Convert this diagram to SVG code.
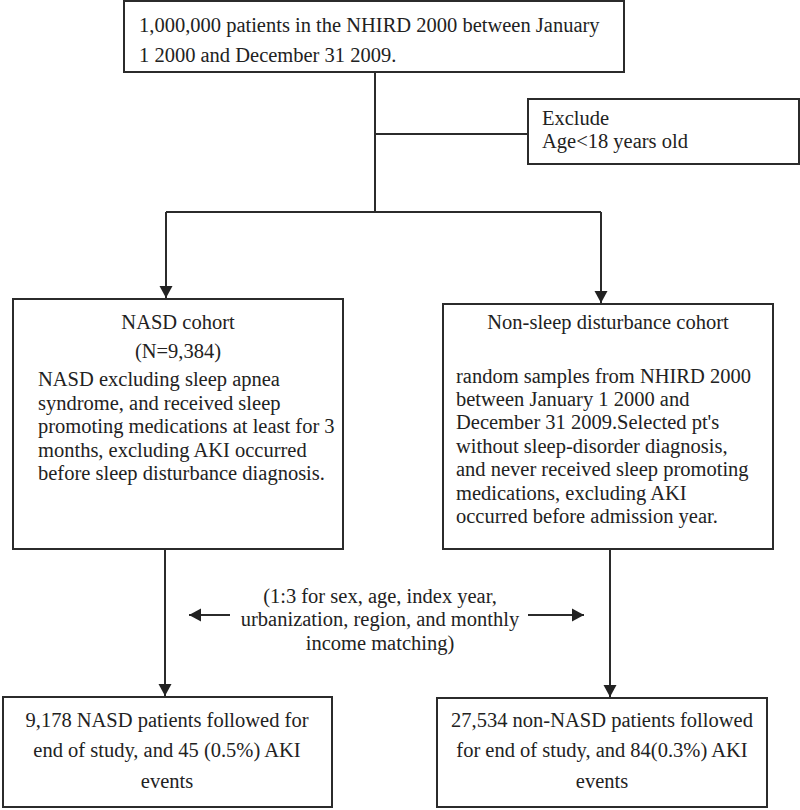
<svg xmlns="http://www.w3.org/2000/svg" width="800" height="810" viewBox="0 0 800 810">
<style>
.box{fill:#fff;stroke:#2b2b2b;stroke-width:2}
.t{font-family:"Liberation Serif","Times New Roman",serif;font-size:20.5px;fill:#222}
.c{text-anchor:middle}
.ln{fill:none;stroke:#2b2b2b;stroke-width:2}
</style>
<defs>
<marker id="ah" markerUnits="userSpaceOnUse" markerWidth="13" markerHeight="14" refX="12" refY="7" orient="auto">
<path d="M0,0.5 L12,7 L0,13.5 z" fill="#222"/>
</marker>
</defs>
<rect width="800" height="810" fill="#fff"/>
<g id="connectors">
<path class="ln" d="M375,72 V212"/>
<path class="ln" d="M375,134 H528"/>
<path class="ln" d="M166,212 H601"/>
<path class="ln" d="M166,212 V298" marker-end="url(#ah)"/>
<path class="ln" d="M601,212 V303" marker-end="url(#ah)"/>
<path class="ln" d="M165,549 V696" marker-end="url(#ah)"/>
<path class="ln" d="M610,549 V697" marker-end="url(#ah)"/>
<path class="ln" d="M230,615 H189" marker-end="url(#ah)"/>
<path class="ln" d="M528,615 H584" marker-end="url(#ah)"/>
</g>
<g id="start">
<rect class="box" x="124" y="1" width="500" height="71"/>
<text class="t" x="139" y="32">1,000,000 patients in the NHIRD 2000 between January</text>
<text class="t" x="139" y="62">1 2000 and December 31 2009.</text>
</g>
<g id="exclude">
<rect class="box" x="528" y="99" width="271" height="65"/>
<text class="t" x="542" y="125">Exclude</text>
<text class="t" x="542" y="148">Age&lt;18 years old</text>
</g>
<g id="nasd">
<rect class="box" x="13" y="299" width="330" height="250"/>
<text class="t c" x="178" y="329">NASD cohort</text>
<text class="t c" x="178" y="358">(N=9,384)</text>
<text class="t" x="38" y="386">NASD excluding sleep apnea</text>
<text class="t" x="38" y="410">syndrome, and received sleep</text>
<text class="t" x="38" y="433">promoting medications at least for 3</text>
<text class="t" x="38" y="457">months, excluding AKI occurred</text>
<text class="t" x="38" y="480">before sleep disturbance diagnosis.</text>
</g>
<g id="nonsleep">
<rect class="box" x="443" y="304" width="330" height="245"/>
<text class="t c" x="608" y="329">Non-sleep disturbance cohort</text>
<text class="t" x="456" y="383">random samples from NHIRD 2000</text>
<text class="t" x="456" y="406">between January 1 2000 and</text>
<text class="t" x="456" y="429">December 31 2009.Selected pt's</text>
<text class="t" x="456" y="453">without sleep-disorder diagnosis,</text>
<text class="t" x="456" y="476">and never received sleep promoting</text>
<text class="t" x="456" y="500">medications, excluding AKI</text>
<text class="t" x="456" y="523">occurred before admission year.</text>
</g>
<g id="matching">
<text class="t c" x="380" y="603">(1:3 for sex, age, index year,</text>
<text class="t c" x="380" y="626">urbanization, region, and monthly</text>
<text class="t c" x="380" y="650">income matching)</text>
</g>
<g id="nasd-out">
<rect class="box" x="3" y="697" width="329" height="110"/>
<text class="t c" x="167" y="727">9,178 NASD patients followed for</text>
<text class="t c" x="167" y="757">end of study, and 45 (0.5%) AKI</text>
<text class="t c" x="167" y="788">events</text>
</g>
<g id="non-out">
<rect class="box" x="437" y="698" width="330" height="109"/>
<text class="t c" x="602" y="727">27,534 non-NASD patients followed</text>
<text class="t c" x="602" y="757">for end of study, and 84(0.3%) AKI</text>
<text class="t c" x="602" y="788">events</text>
</g>
</svg>
